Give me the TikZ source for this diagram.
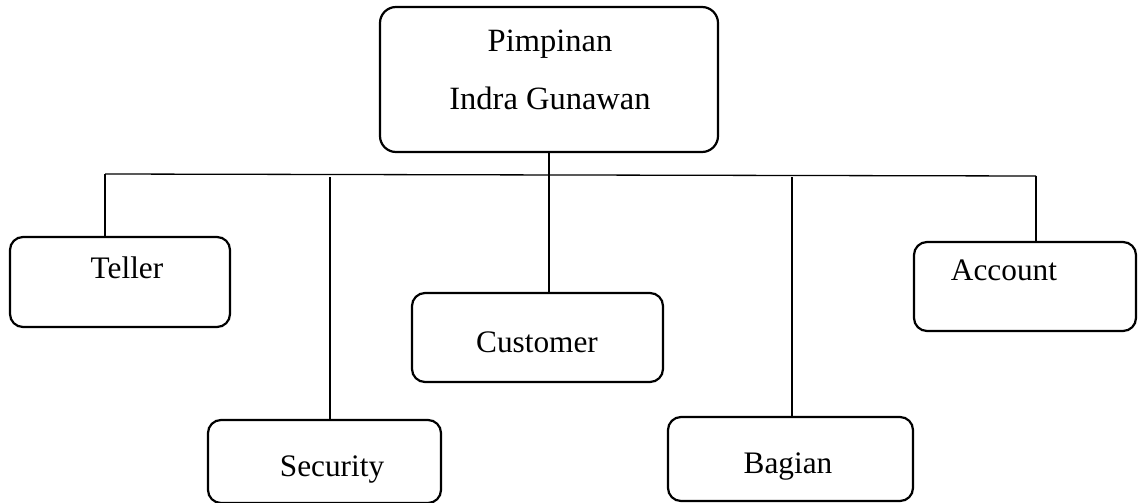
\documentclass[tikz,border=0pt]{standalone}
\usepackage{fontspec}
\setmainfont{Liberation Serif}
\begin{document}
\begin{tikzpicture}[x=1pt,y=-1pt,
  box/.style={draw=black, line width=2.2pt, rounded corners=13pt, inner sep=0pt},
  lbl/.style={anchor=base, inner sep=0pt, font=\fontsize{31.3}{36}\selectfont},
  toplbl/.style={lbl, font=\fontsize{32.5}{38}\selectfont},
  conn/.style={draw=black, line width=1.3pt}]
\useasboundingbox (0,0) rectangle (1138,503);
% boxes
\node[box, rounded corners=16pt, minimum width=338pt, minimum height=145pt] (top) at (549,79.5) {};
\node[box, minimum width=220pt, minimum height=90pt] (tel) at (120,282) {};
\node[box, minimum width=251pt, minimum height=89pt] (cus) at (537.5,337.5) {};
\node[box, minimum width=222pt, minimum height=89pt] (acc) at (1025,286.5) {};
\node[box, minimum width=233pt, minimum height=83pt] (sec) at (324.5,461.5) {};
\node[box, minimum width=245pt, minimum height=84pt] (bag) at (790.5,459) {};
% texts
\node[toplbl] (t1) at (550,52) {Pimpinan};
\node[toplbl] (t2) at (550,110) {Indra Gunawan};
\node[lbl] (t3) at (127,278) {Teller};
\node[lbl] (t4) at (537,352) {Customer};
\node[lbl] (t5) at (1004,280) {Account};
\node[lbl] (t6) at (332,476) {Security};
\node[lbl] (t7) at (788,473) {Bagian};
% connectors
\coordinate (hl) at (105,174);
\coordinate (hr) at (1036,176);
\coordinate (sv) at (330,177);
\coordinate (bv) at (792,177);
\draw[conn] (hl) -- (hr);
\draw[conn] (top.south) -- (top.south |- cus.north);
\draw[conn] (hl) -- (hl |- tel.north);
\draw[conn] (hr) -- (hr |- acc.north);
\draw[conn] (sv) -- (sv |- sec.north);
\draw[conn] (bv) -- (bv |- bag.north);
\end{tikzpicture}
\end{document}
